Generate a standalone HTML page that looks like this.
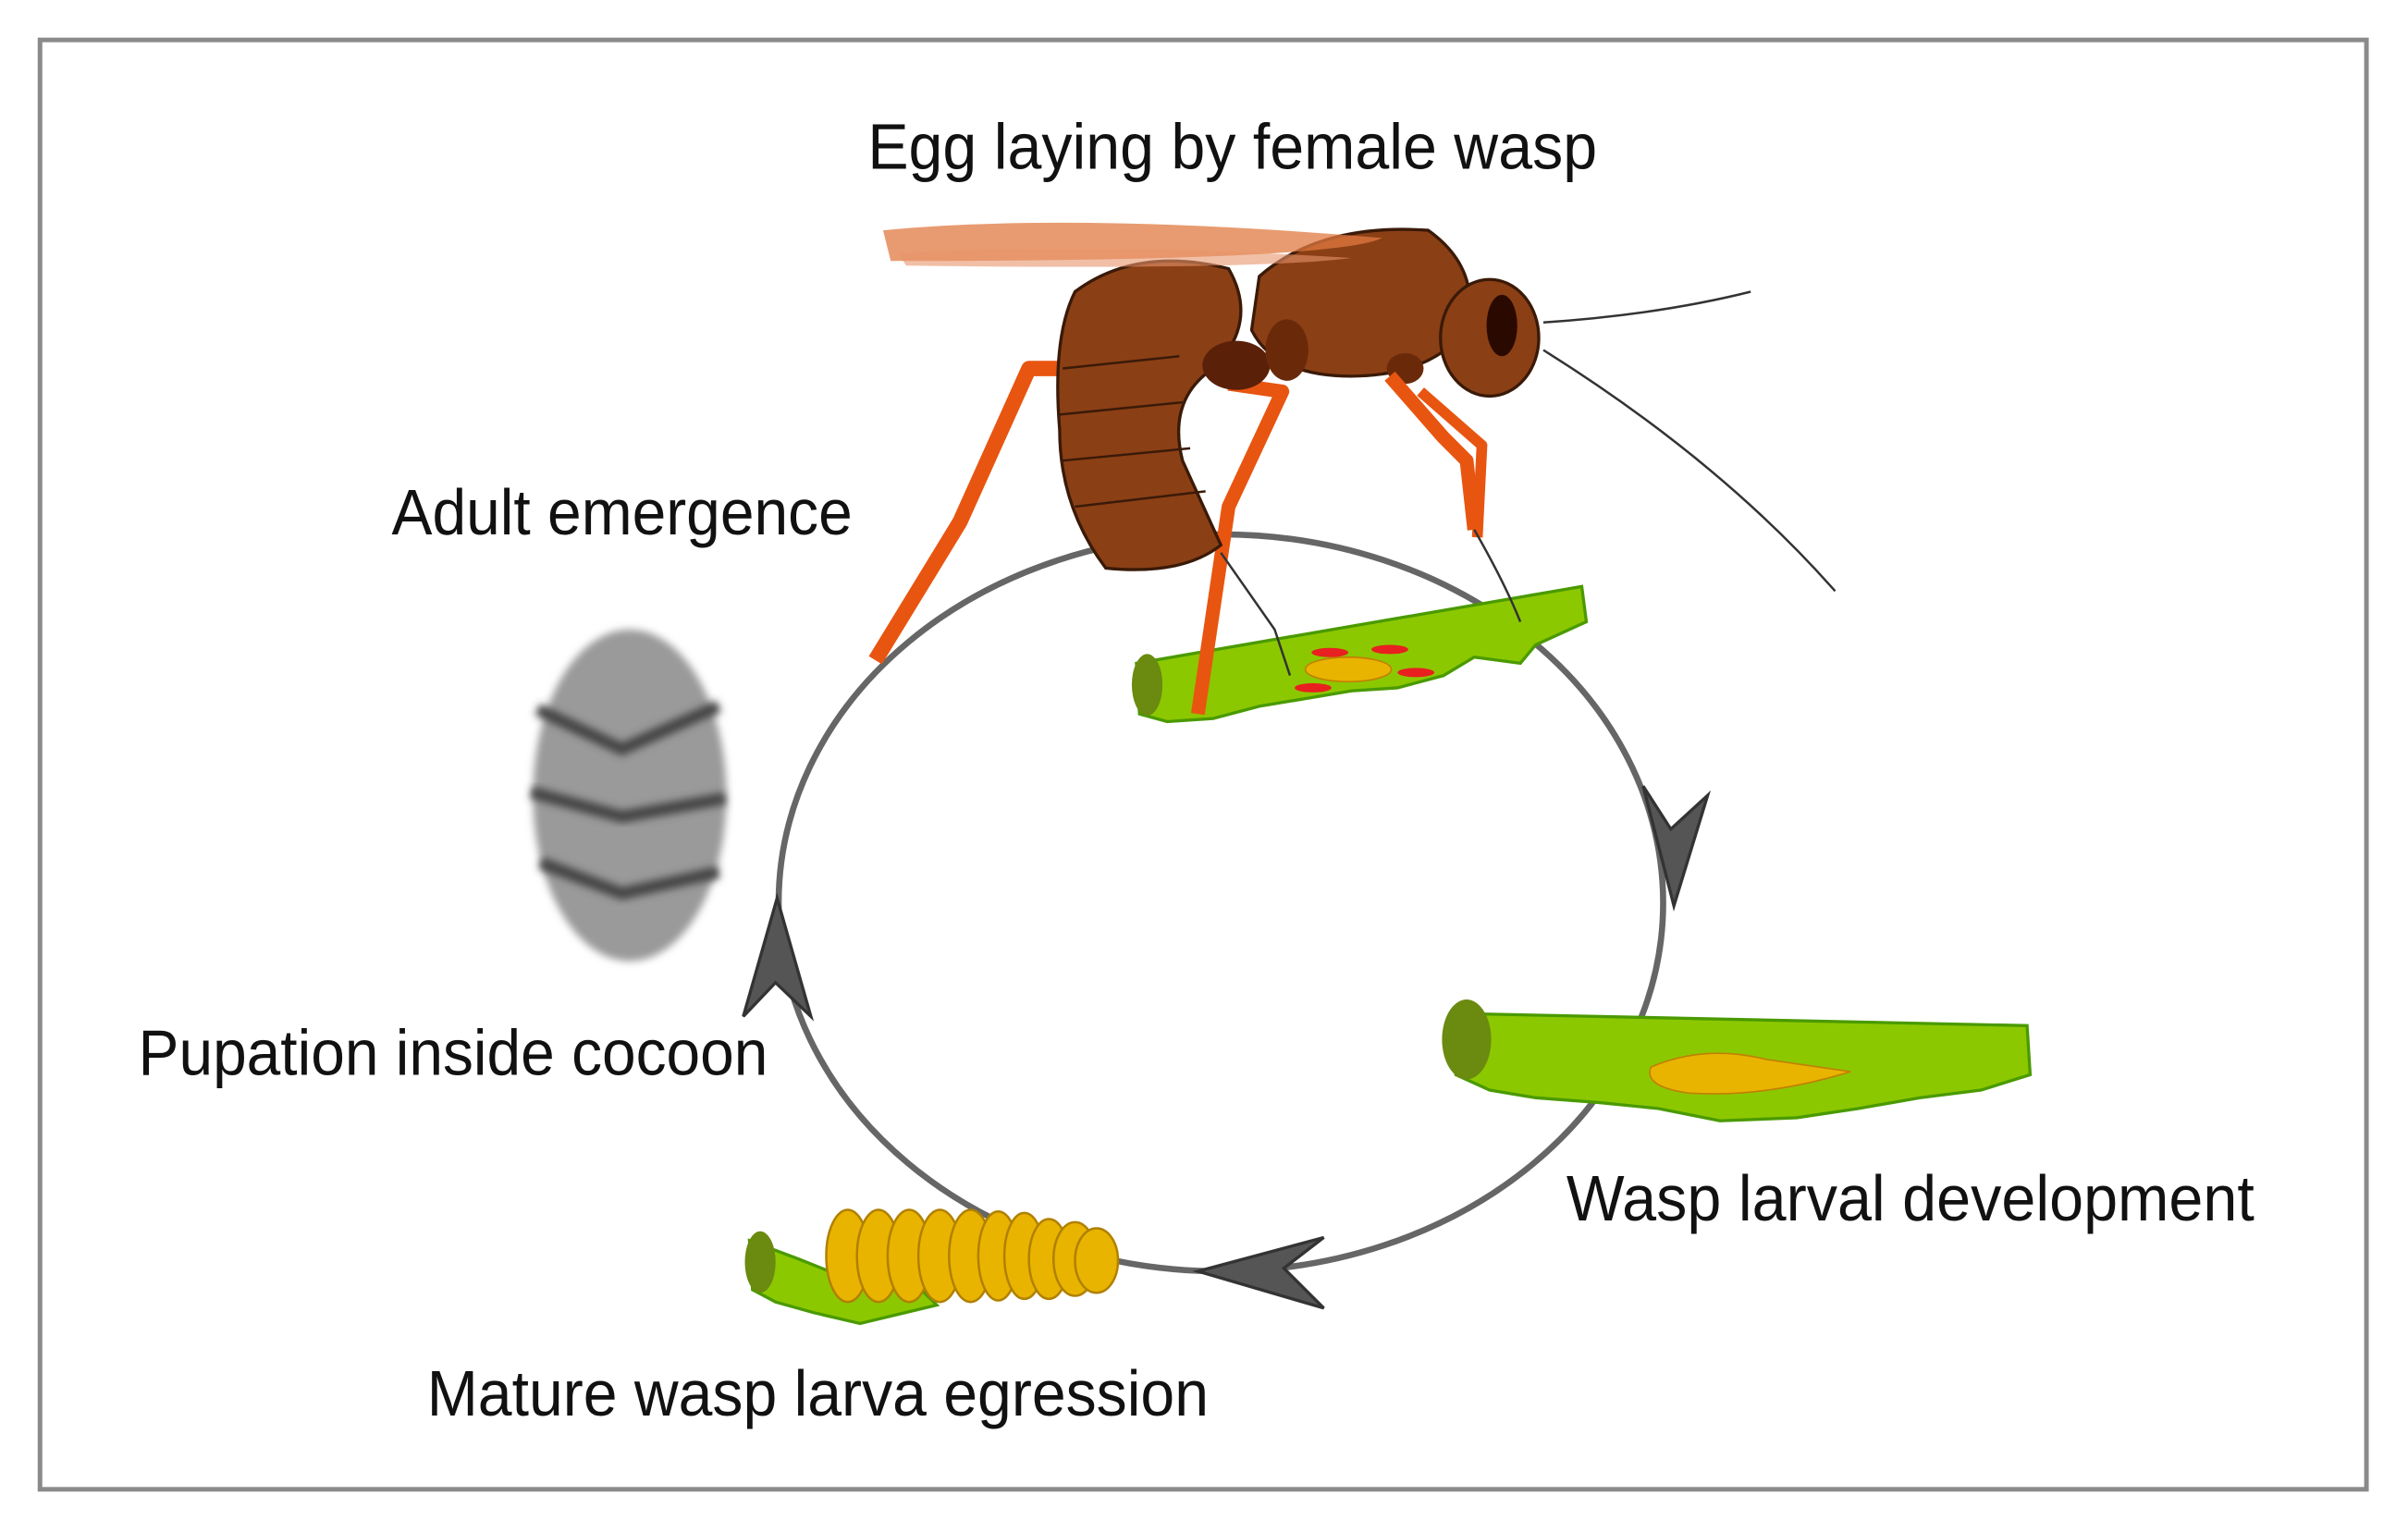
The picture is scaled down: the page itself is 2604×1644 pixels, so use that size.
<!DOCTYPE html>
<html><head><meta charset="utf-8"><style>
html,body{margin:0;padding:0;background:#fff;}
svg{display:block}
text{font-family:"Liberation Sans",sans-serif;fill:#111;}
</style></head><body>
<svg width="2604" height="1644" viewBox="0 0 1568 990">
<defs>
<filter id="blur" x="-40%" y="-40%" width="180%" height="180%"><feGaussianBlur stdDeviation="2.5"/></filter>
</defs>
<rect x="26" y="26" width="1515" height="944" fill="#fff" stroke="#8a8a8a" stroke-width="3"/>

<ellipse cx="795" cy="588" rx="288" ry="240" fill="none" stroke="#666" stroke-width="4"/>
<path d="M1090 590 L1070 512 L1088 540 L1112 518 Z" fill="#555" stroke="#333" stroke-width="2"/>
<path d="M780 828 L862 806 L836 826 L862 852 Z" fill="#555" stroke="#333" stroke-width="2"/>
<path d="M506 585 L484 662 L505 640 L528 662 Z" fill="#555" stroke="#333" stroke-width="2"/>

<text x="565" y="110" font-size="42" textLength="475" lengthAdjust="spacingAndGlyphs">Egg laying by female wasp</text>
<text x="255" y="348" font-size="42" textLength="300" lengthAdjust="spacingAndGlyphs">Adult emergence</text>
<text x="90" y="700" font-size="42" textLength="410" lengthAdjust="spacingAndGlyphs">Pupation inside cocoon</text>
<text x="1020" y="795" font-size="42" textLength="448" lengthAdjust="spacingAndGlyphs">Wasp larval development</text>
<text x="278" y="922" font-size="42" textLength="509" lengthAdjust="spacingAndGlyphs">Mature wasp larva egression</text>

<g>
<ellipse cx="410" cy="518" rx="63" ry="108" fill="#9a9a9a" filter="url(#blur)"/>
<path d="M350 462 L405 488 L468 460" stroke="#444" stroke-width="8" fill="none" filter="url(#blur)"/>
<path d="M346 516 L405 532 L472 520" stroke="#444" stroke-width="8" fill="none" filter="url(#blur)"/>
<path d="M352 562 L405 582 L468 568" stroke="#444" stroke-width="8" fill="none" filter="url(#blur)"/>
</g>

<g>
<path d="M740 432 L1030 382 L1033 405 L1000 420 L990 432 L960 428 L940 440 L910 448 L880 450 L850 455 L820 460 L790 468 L760 470 L742 465 Z" fill="#8cc800" stroke="#4a9a00" stroke-width="2"/>
<ellipse cx="747" cy="446" rx="10" ry="20" fill="#6a8a10"/>
<ellipse cx="878" cy="436" rx="28" ry="8" fill="#e8b400" stroke="#c08000"/>
<ellipse cx="866" cy="425" rx="12" ry="3" fill="#e82020"/>
<ellipse cx="905" cy="423" rx="12" ry="3" fill="#e82020"/>
<ellipse cx="922" cy="438" rx="12" ry="3" fill="#e82020"/>
<ellipse cx="855" cy="448" rx="12" ry="3" fill="#e82020"/>
</g>

<g>
<path d="M945 660 L1320 668 L1322 700 L1290 710 L1250 715 L1210 722 L1170 728 L1120 730 L1080 722 L1040 718 L1000 715 L970 710 L948 700 Z" fill="#8cc800" stroke="#4a9a00" stroke-width="2"/>
<ellipse cx="955" cy="677" rx="16" ry="26" fill="#6a8a10"/>
<path d="M1075 695 Q1110 680 1150 690 L1205 698 Q1150 715 1100 712 Q1070 708 1075 695 Z" fill="#e8b400" stroke="#c08000"/>
</g>

<g>
<path d="M488 808 L520 820 L545 830 L600 840 L610 850 L560 862 L530 855 L505 848 L490 840 Z" fill="#8cc800" stroke="#4a9a00" stroke-width="2"/>
<ellipse cx="495" cy="822" rx="10" ry="20" fill="#6a8a10"/>
<g fill="#e8b400" stroke="#b08000" stroke-width="1.5">
<ellipse cx="552" cy="818" rx="14" ry="30"/>
<ellipse cx="572" cy="818" rx="14" ry="30"/>
<ellipse cx="592" cy="818" rx="14" ry="30"/>
<ellipse cx="612" cy="818" rx="14" ry="30"/>
<ellipse cx="632" cy="818" rx="14" ry="30"/>
<ellipse cx="650" cy="818" rx="13" ry="29"/>
<ellipse cx="667" cy="818" rx="13" ry="28"/>
<ellipse cx="683" cy="820" rx="13" ry="26"/>
<ellipse cx="700" cy="820" rx="14" ry="24"/>
<ellipse cx="714" cy="821" rx="14" ry="21"/>
</g>
</g>

<g>
<path d="M1005 210 Q1080 205 1140 190" stroke="#333" stroke-width="1.5" fill="none"/>
<path d="M1005 228 Q1120 300 1195 385" stroke="#333" stroke-width="1.5" fill="none"/>
<path d="M760 240 L670 240 L625 340 L570 430" stroke="#e85510" stroke-width="10" fill="none" stroke-linejoin="round"/>
<path d="M800 250 L835 255 L800 330 L780 465" stroke="#e85510" stroke-width="9" fill="none" stroke-linejoin="round"/>
<path d="M700 190 Q740 160 800 175 Q820 210 790 240 Q760 260 770 300 L795 355 Q770 375 720 370 Q690 330 690 280 Q685 220 700 190 Z" fill="#8b3f15" stroke="#3a1a08" stroke-width="2"/>
<path d="M692 240 L768 232 M690 270 L770 262 M692 300 L775 292 M700 330 L785 320" stroke="#3a1a08" stroke-width="1.5" fill="none"/>
<ellipse cx="805" cy="238" rx="22" ry="16" fill="#5a2008"/>
<path d="M820 180 Q860 145 930 150 Q965 175 955 215 Q930 245 880 245 Q830 245 815 215 Z" fill="#8b3f15" stroke="#3a1a08" stroke-width="2"/>
<ellipse cx="838" cy="228" rx="14" ry="20" fill="#6a2a0a"/>
<ellipse cx="915" cy="240" rx="12" ry="10" fill="#6a2a0a"/>
<ellipse cx="970" cy="220" rx="32" ry="38" fill="#8b3f15" stroke="#3a1a08" stroke-width="2"/>
<ellipse cx="978" cy="212" rx="10" ry="20" fill="#2a0a00"/>
<path d="M905 245 L940 285 L955 300 L960 345" stroke="#e85510" stroke-width="9" fill="none" stroke-linejoin="round"/>
<path d="M925 255 L965 290 L962 350" stroke="#e85510" stroke-width="7" fill="none" stroke-linejoin="round"/>
<path d="M795 360 L830 410 L840 440" stroke="#333" stroke-width="1.5" fill="none"/>
<path d="M960 345 Q980 380 990 405" stroke="#333" stroke-width="1.5" fill="none"/>
<path d="M575 150 Q700 138 900 155 Q870 170 580 170 Z" fill="#e07a40" opacity="0.75"/>
<path d="M585 165 Q720 158 880 168 Q820 176 590 173 Z" fill="#e8956a" opacity="0.6"/>
</g>
</svg>
</body></html>
